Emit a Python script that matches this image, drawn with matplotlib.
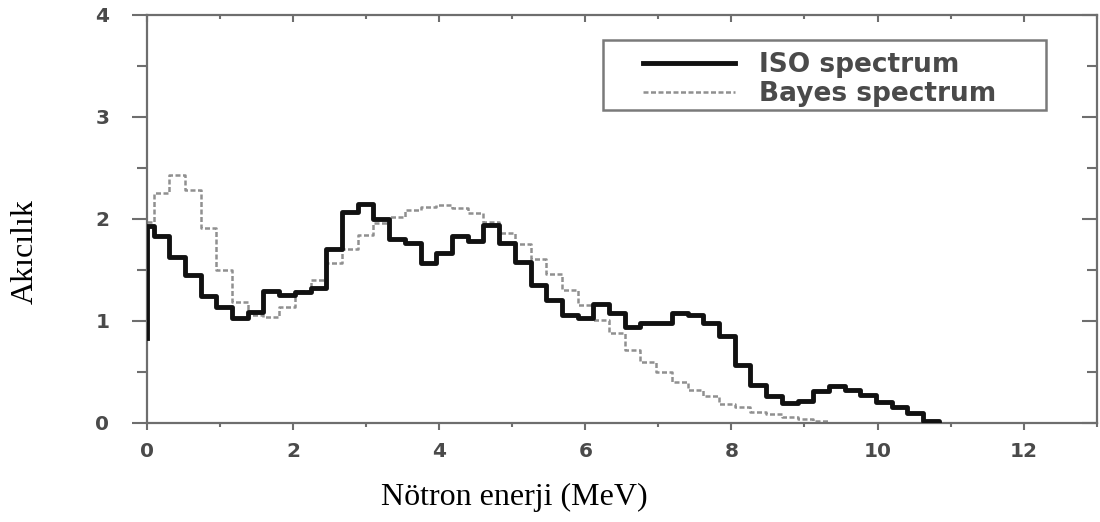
import matplotlib.pyplot as plt
from matplotlib.patches import Rectangle

# bin edges (MeV)
edges = [0.0, 0.09, 0.305, 0.52, 0.735, 0.95, 1.165, 1.38, 1.595, 1.81, 2.025,
         2.24, 2.455, 2.67, 2.885, 3.1, 3.315, 3.53, 3.745, 3.96, 4.175,
         4.39, 4.605, 4.82, 5.035, 5.25, 5.465, 5.68, 5.895, 6.11, 6.325,
         6.54, 6.755, 6.97, 7.185, 7.4, 7.615, 7.83, 8.045, 8.26, 8.475,
         8.69, 8.905, 9.12, 9.335, 9.55, 9.765, 9.98, 10.195, 10.41, 10.625,
         10.84]

iso_start = 0.83
iso = [1.93, 1.83, 1.63, 1.45, 1.24, 1.14, 1.03, 1.09, 1.29, 1.25, 1.28,
       1.32, 1.71, 2.07, 2.15, 2.00, 1.80, 1.76, 1.57, 1.67, 1.83,
       1.78, 1.94, 1.76, 1.58, 1.35, 1.21, 1.06, 1.03, 1.17, 1.08,
       0.94, 0.98, 0.98, 1.08, 1.06, 0.98, 0.85, 0.57, 0.37, 0.26,
       0.20, 0.22, 0.31, 0.36, 0.32, 0.27, 0.21, 0.16, 0.095, 0.02]

bayes = [1.97, 2.25, 2.43, 2.28, 1.91, 1.50, 1.19, 1.06, 1.04, 1.14, 1.29,
         1.40, 1.57, 1.71, 1.84, 1.96, 2.02, 2.09, 2.12, 2.14, 2.11,
         2.06, 1.97, 1.86, 1.75, 1.61, 1.46, 1.30, 1.16, 1.01, 0.88,
         0.72, 0.60, 0.50, 0.40, 0.32, 0.26, 0.19, 0.16, 0.11, 0.09,
         0.06, 0.04, 0.02]

xticks = [0, 2, 4, 6, 8, 10, 12]
yticks = [0, 1, 2, 3, 4]

fig = plt.figure(figsize=(11, 5.22), dpi=100)
ax = fig.add_axes([0.1336, 0.1897, 0.8634, 0.7816])

# ISO: starts low at E=0, jumps up, ends at zero
iso_x = [edges[0]] + edges
iso_y = [iso_start] + iso + [0]
ax.step(iso_x, iso_y, where='post', color='#111111', lw=3.5, label='ISO spectrum',
        zorder=3)

bx = edges[:len(bayes) + 1]
by = bayes + [0]
ax.step(bx, by, where='post', color='#909090', lw=1.8, ls=(0, (2, 1)),
        label='Bayes spectrum', zorder=2)

ax.set_xlim(0, 13)
ax.set_ylim(0, 4)
ax.set_xticks(xticks)
ax.set_xticks(range(0, 14), minor=True)
ax.set_yticks(yticks)
ax.set_yticks([0.5, 1.5, 2.5, 3.5], minor=True)

tick_font = dict(family='DejaVu Sans', weight='bold', size=14.5, color='#4a4a4a')
ax.set_xticklabels([str(t) for t in xticks], fontdict=tick_font)
ax.set_yticklabels([str(t) for t in yticks], fontdict=tick_font)

for s in ax.spines.values():
    s.set_color('#6e6e6e')
    s.set_linewidth(1.6)

ax.tick_params(axis='y', which='major', direction='out', length=11, width=1.5,
               color='#6e6e6e', pad=16, right=True)
ax.tick_params(axis='y', which='minor', direction='out', length=7.5, width=1.5,
               color='#6e6e6e', right=True)
ax.tick_params(axis='x', which='major', direction='out', length=5, width=1.5,
               color='#6e6e6e', pad=9, top=True)
ax.tick_params(axis='x', which='minor', direction='out', length=3, width=1.5,
               color='#6e6e6e', top=True)
# top and right ticks point inward
for t in ax.yaxis.get_major_ticks() + ax.yaxis.get_minor_ticks():
    t.tick2line.set_marker(0)
for t in ax.xaxis.get_major_ticks() + ax.xaxis.get_minor_ticks():
    t.tick2line.set_marker(3)

ax.set_xlabel('Nötron enerji (MeV)', family='Liberation Serif', size=23,
              color='black')
ax.xaxis.set_label_coords(0.387, -0.148)
ax.set_ylabel('Akıcılık', family='Liberation Serif', size=23, color='black')
ax.yaxis.set_label_coords(-0.113, 0.419)

# legend frame drawn separately, entries placed inside
ax.add_patch(Rectangle((0.48, 0.767), 0.467, 0.172, transform=ax.transAxes,
                       fill=True, facecolor='white', edgecolor='#7a7a7a',
                       lw=1.8, zorder=4))
leg = ax.legend(loc='upper left', bbox_to_anchor=(0.5221, 0.909),
                prop=dict(family='DejaVu Sans', weight='bold', size=19),
                handlelength=3.5, handletextpad=0.9, labelspacing=0.11,
                borderpad=0, borderaxespad=0, frameon=False)
leg.set_zorder(5)
for txt in leg.get_texts():
    txt.set_color('#4a4a4a')

fig.savefig('out.png', dpi=100)
